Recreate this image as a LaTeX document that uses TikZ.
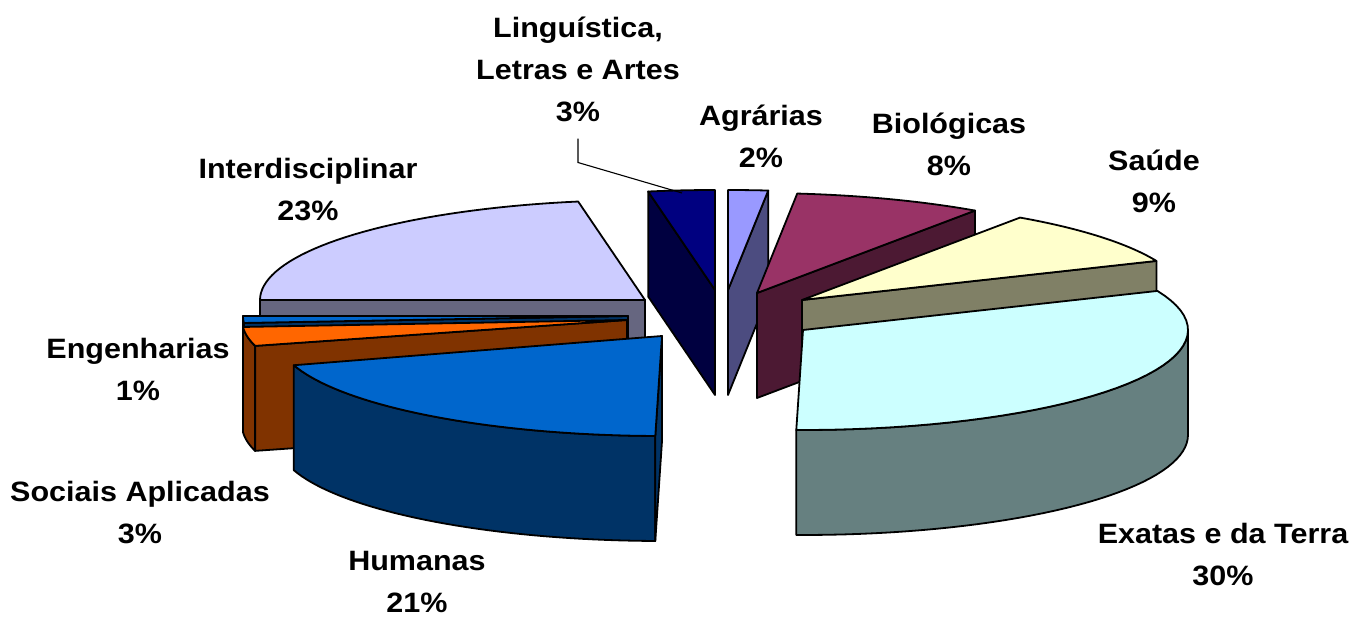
\documentclass[tikz,border=0pt]{standalone}
\usepackage{fontspec}
\newfontfamily\lblfont[FakeStretch=1.09]{Liberation Sans}
\usepackage{tikz}

\definecolor{agr}{HTML}{9999FF}
\definecolor{bio}{HTML}{993366}
\definecolor{sau}{HTML}{FFFFCC}
\definecolor{exa}{HTML}{CCFFFF}
\definecolor{hum}{HTML}{0066CC}
\definecolor{soc}{HTML}{FF6600}
\definecolor{eng}{HTML}{0066CC}
\definecolor{itd}{HTML}{CCCCFF}
\definecolor{ling}{HTML}{000080}

% ellipse radii and thickness of the pie, in pixels
\newcommand{\pieA}{385}
\newcommand{\pieB}{100}
\newcommand{\pieH}{105}

% apex x, apex y, from angle, to angle, colour
\newcommand{\topface}[5]{%
  \filldraw[face, fill=#5] (#1,#2) -- plot[domain=#3:#4, samples=40] ({#1+\pieA*sin(\x)}, {#2-\pieB*cos(\x)}) -- cycle;}
\newcommand{\rimface}[5]{%
  \filldraw[face, fill=#5!50!black] plot[domain=#3:#4, samples=40] ({#1+\pieA*sin(\x)}, {#2-\pieB*cos(\x)})
    -- plot[domain=#4:#3, samples=40] ({#1+\pieA*sin(\x)}, {#2+\pieH-\pieB*cos(\x)}) -- cycle;}
% apex x, apex y, angle, colour
\newcommand{\cutface}[4]{%
  \filldraw[face, fill=#4!50!black] (#1,#2) -- ({#1+\pieA*sin(#3)}, {#2-\pieB*cos(#3)}) -- ++(0,\pieH) -- (#1,{#2+\pieH}) -- cycle;}

\begin{document}
\begin{tikzpicture}[x=1pt, y=-1pt,
    face/.style = {draw=black, line width=1.8pt, line join=round},
    lbl/.style = {font=\lblfont\bfseries\fontsize{28}{42}\selectfont, align=center, inner sep=0pt, anchor=base},
    leader/.style = {draw, line width=1.1pt}]
  \useasboundingbox (0,0) rectangle (1360,617);

  % slices, back to front
  \cutface{715}{290}{350}{ling}
  \topface{715}{290}{350}{360}{ling}
  \cutface{728}{290}{6}{agr}
  \topface{728}{290}{0}{6}{agr}
  \cutface{757}{293}{34.5}{bio}
  \topface{757}{293}{6}{34.5}{bio}
  \cutface{802}{300}{67}{sau}
  \topface{802}{300}{34.5}{67}{sau}
  \cutface{645}{300}{270}{itd}
  \topface{645}{300}{270}{350}{itd}
  \rimface{628}{316}{266}{270}{eng}
  \cutface{628}{316}{266}{eng}
  \topface{628}{316}{266}{270}{eng}
  \rimface{627}{320}{255}{266}{soc}
  \cutface{627}{320}{255}{soc}
  \topface{627}{320}{255}{266}{soc}
  \rimface{662}{336}{181}{253}{hum}
  \cutface{662}{336}{181}{hum}
  \topface{662}{336}{181}{253}{hum}
  \rimface{803}{330}{90}{181}{exa}
  \topface{803}{330}{67}{181}{exa}

  % labels (placed at the baseline of their last line)
  \node[lbl] (ling) at (578,122) {Linguística,\\Letras e Artes\\3\%};
  \node[lbl] (agr) at (761,168) {Agrárias\\2\%};
  \node[lbl] (bio) at (949,176) {Biológicas\\8\%};
  \node[lbl] (sau) at (1154,213) {Saúde\\9\%};
  \node[lbl] (exa) at (1223,585) {Exatas e da Terra\\30\%};
  \node[lbl] (hum) at (417,612) {Humanas\\21\%};
  \node[lbl] (soc) at (140,543) {Sociais Aplicadas\\3\%};
  \node[lbl] (eng) at (138,400) {Engenharias\\1\%};
  \node[lbl] (itd) at (308,221) {Interdisciplinar\\23\%};

  \coordinate (lingtip) at (682,193);
  \draw[leader] ([yshift=-16pt]ling.south) -- ++(0,24) -- (lingtip);
\end{tikzpicture}
\end{document}
